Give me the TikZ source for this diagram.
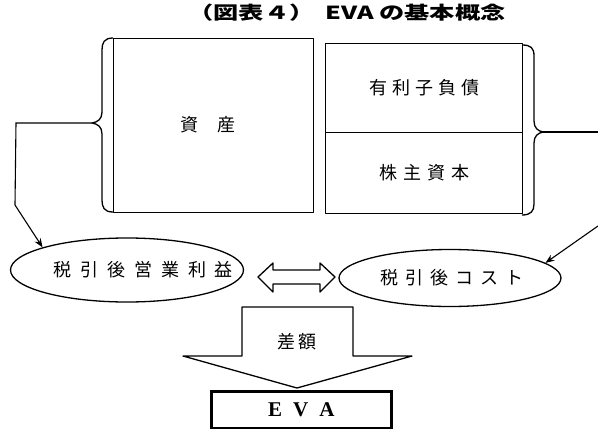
\documentclass[tikz,border=0pt]{standalone}
\usepackage{fontspec}
\newfontfamily\jp{Noto Sans CJK JP}
\newfontfamily\evafont{Liberation Serif}
\usetikzlibrary{shapes.geometric,arrows.meta}
\tikzset{
  ln/.style={line width=1.3pt, line join=round},
  boxlabel/.style={font=\jp\fontsize{18}{20}\selectfont, inner sep=0pt},
  blk/.style={ln, draw, inner sep=0pt, anchor=north west},
  oval/.style={ln, draw, ellipse, inner sep=0pt},
  conn/.style={line width=1.1pt, -{Stealth[length=9pt,width=7pt]}},
  plain/.style={line width=1.1pt},
}
\begin{document}
\begin{tikzpicture}[x=1pt,y=-1pt]
\useasboundingbox (0,0) rectangle (598,429);
% title
\node[font=\jp\bfseries\fontsize{18}{20}\selectfont, inner sep=0pt, xscale=1.4] (title) at (347,13) {（図表４）\hspace{8pt}EVA の基本概念};
% boxes
\node[blk, minimum width=200pt, minimum height=174pt] (asset) at (113,38) {};
\node[boxlabel] (assetlbl) at (208,125) {資\hspace{20pt}産};
\node[blk, minimum width=197pt, minimum height=89pt] (debt) at (325,43) {};
\node[boxlabel] at (debt.center) {有\hspace{5pt}利\hspace{5pt}子\hspace{5pt}負\hspace{5pt}債};
\node[blk, minimum width=197pt, minimum height=81pt] (equity) at (325,132) {};
\node[boxlabel] at (equity.center) {株\hspace{6pt}主\hspace{6pt}資\hspace{6pt}本};
% braces
\coordinate (lb) at (92,123);
\draw[ln] (113,38) .. controls (104,38) and (102,43) .. (102,50) -- (102,112)
  .. controls (102,119) and (98,122) .. (lb)
  .. controls (98,124) and (102,127) .. (102,134) -- (102,200)
  .. controls (102,207) and (104,212) .. (113,212);
\coordinate (rb) at (543,132);
\draw[ln] (522,45) .. controls (531,45) and (534,48) .. (534,56) -- (534,121)
  .. controls (534,128) and (538,131) .. (rb)
  .. controls (538,133) and (534,136) .. (534,143) -- (534,204)
  .. controls (534,211) and (531,215) .. (522,215);
% ellipses
\node[oval, minimum width=233pt, minimum height=64pt] (profit) at (127,270) {};
\node[boxlabel] (profitlbl) at (143,270) {税\hspace{9pt}引\hspace{9pt}後\hspace{9pt}営\hspace{9pt}業\hspace{9pt}利\hspace{9pt}益};
\node[oval, minimum width=222pt, minimum height=57pt] (cost) at (450,278) {};
\node[boxlabel] (costlbl) at (452,278) {税\hspace{7pt}引\hspace{7pt}後\hspace{7pt}コ\hspace{7pt}ス\hspace{7pt}ト};
% connectors
\coordinate (l1) at (16,123);
\coordinate (l2) at (15,205);
\draw[conn] (lb) -- (l1) -- (l2) -- (profit.165);
\coordinate (r1) at (598,132);
\coordinate (r2) at (598,226);
\draw[plain] (rb) -- (r1);
\draw[conn] (r2) -- (cost.9);
% double arrow
\draw[ln] (258,277) -- (273,263) -- (273,270) -- (320,270) -- (320,263) -- (335,277)
  -- (320,292) -- (320,284) -- (273,284) -- (273,292) -- cycle;
\coordinate (dbl) at (296,277);
% difference arrow
\draw[ln] (242,307) -- (353,307) -- (353,356) -- (412,356) -- (297,388) -- (183,356) -- (242,356) -- cycle;
\node[boxlabel] (diff) at (297,342) {差\hspace{4pt}額};
% EVA box
\node[draw, line width=2.6pt, inner sep=0pt, minimum width=180pt, minimum height=37pt, anchor=north west, font=\evafont\bfseries\fontsize{21}{22}\selectfont] (eva) at (210,390) {E\hspace{11pt}V\hspace{11pt}A};
\end{tikzpicture}
\end{document}
